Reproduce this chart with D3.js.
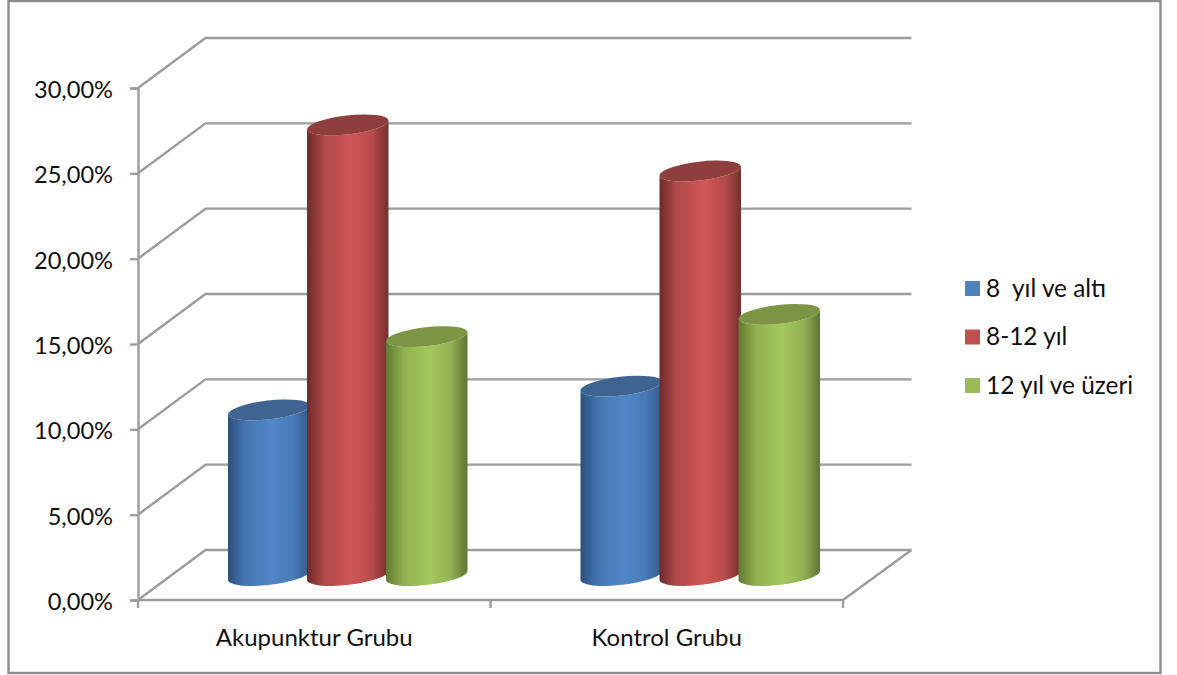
<!DOCTYPE html>
<html lang="tr">
<head>
<meta charset="utf-8">
<style>
  html, body { margin: 0; padding: 0; background: #fff; }
  svg { display: block; }
  text { font-family: Lato, "Open Sans", sans-serif; fill: #111; }
</style>
<script src="https://cdn.jsdelivr.net/npm/d3@7"></script>
</head>
<body>
<svg id="chart" width="1177" height="675"></svg>
<script>
const categories = ["Akupunktur Grubu", "Kontrol Grubu"];
const seriesNames = ["8  yıl ve altı", "8-12 yıl", "12 yıl ve üzeri"];
const firstSeries = [9.7, 11.1];
const secondSeries = [26.4, 23.7];
const thirdSeries = [14.0, 15.3];
const yTicks = [0, 5, 10, 15, 20, 25, 30];

const palette = [
  { edgeL: "#2b4f7c", mid: "#5086c8", edgeR: "#355a88", cap: "#3f6492", key: "#4f81bd" },
  { edgeL: "#6b2b2a", mid: "#cf5755", edgeR: "#742f2e", cap: "#8e3e3c", key: "#c0504d" },
  { edgeL: "#627a30", mid: "#a5c85d", edgeR: "#5f7434", cap: "#7c9545", key: "#9bbb59" }
];

const svg = d3.select("#chart");
const series = [firstSeries, secondSeries, thirdSeries];

// Plot box in screen space, plus the shift of the back wall for the 3D look
const plotLeft = 138, plotRight = 843, plotBottom = 600, plotTop = 88;
const wallDx = 67.5, wallDy = -50;
const gridColor = "#9c9c9c";
const gridWidth = 2.4;
const labelSize = 24;

const x = d3.scaleBand().domain(categories).range([plotLeft, plotRight]);
const y = d3.scaleLinear().domain([0, 30]).range([plotBottom, plotTop]);
const seriesX = d3.scalePoint().domain(d3.range(series.length)).range([-79, 79]);

// Outer frame
svg.append("rect")
  .attr("x", 8.5).attr("y", 1).attr("width", 1152).attr("height", 672)
  .attr("fill", "#fff").attr("stroke", "#8c8c8c").attr("stroke-width", 2.4);

// Gradients giving each cylinder its rounded shading
const defs = svg.append("defs");
palette.forEach((c, i) => {
  const g = defs.append("linearGradient").attr("id", "cyl" + i)
    .attr("x1", 0).attr("x2", 1).attr("y1", 0).attr("y2", 0);
  [[0, c.edgeL], [0.22, d3.interpolateRgb(c.edgeL, c.mid)(0.72)], [0.55, c.mid],
   [0.8, d3.interpolateRgb(c.edgeR, c.mid)(0.72)], [1, c.edgeR]]
    .forEach(([o, col]) => g.append("stop").attr("offset", o).attr("stop-color", col));
});

// Wall and floor gridlines
const grid = svg.append("g").attr("fill", "none").attr("stroke", gridColor).attr("stroke-width", gridWidth);
yTicks.forEach(t => {
  grid.append("path").attr("d", d3.line()([
    [plotLeft, y(t)], [plotLeft + wallDx, y(t) + wallDy], [plotRight + wallDx + 1, y(t) + wallDy]
  ]));
});
grid.append("path").attr("d", d3.line()([
  [plotRight, y(0)], [plotRight + wallDx + 1, y(0) + wallDy]
]));

// Value axis with Turkish decimal comma
const tr = d3.formatLocale({ decimal: ",", thousands: ".", grouping: [3], currency: ["", " ₺"] });
const fmt = tr.format(".2f");
const yAxis = svg.append("g").attr("transform", `translate(${plotLeft},0)`)
  .call(d3.axisLeft(y).tickValues(yTicks).tickSize(8).tickPadding(17)
    .tickFormat(v => fmt(v) + "%"));
yAxis.selectAll("path.domain").attr("stroke", gridColor).attr("stroke-width", gridWidth);
yAxis.selectAll("line").attr("stroke", gridColor).attr("stroke-width", gridWidth);
yAxis.selectAll("text")
  .attr("font-size", labelSize - 0.4)
  .attr("dy", "0.4em")
  .style("font-family", "Lato, sans-serif")
  .attr("fill", "#111");

// Category axis: ticks fall on the band edges, labels in the band centres
const xAxisG = svg.append("g");
xAxisG.append("line").attr("x1", plotLeft).attr("x2", plotRight).attr("y1", y(0)).attr("y2", y(0))
  .attr("stroke", gridColor).attr("stroke-width", gridWidth);
[plotLeft, x(categories[1]), plotRight].forEach(px => {
  xAxisG.append("line").attr("x1", px).attr("x2", px).attr("y1", y(0)).attr("y2", y(0) + 8)
    .attr("stroke", gridColor).attr("stroke-width", gridWidth);
});
xAxisG.selectAll("text").data(categories).join("text")
  .attr("x", d => x(d) + x.bandwidth() / 2)
  .attr("y", 646)
  .attr("text-anchor", "middle")
  .attr("font-size", labelSize)
  .text(d => d);

// Cylinders: tilted ellipse caps joined by a shaded body
const halfW = 41, capMinor = 9.4, tilt = -6.5;
const rad = tilt * Math.PI / 180;
const ex = halfW * Math.cos(rad), ey = halfW * Math.sin(rad);
const depthDx = 33.5, depthDy = -24.5;

const bars = svg.append("g");
categories.forEach((cat, ci) => {
  series.forEach((vals, si) => {
    const cx = x(cat) + x.bandwidth() / 2 + seriesX(si) + depthDx;
    const baseY = y(0) + depthDy;
    const capY = y(vals[ci]) + depthDy;
    const body = `M${cx - ex},${capY - ey}` +
      `L${cx - ex},${baseY - ey}` +
      `A${halfW},${capMinor} ${tilt} 0 0 ${cx + ex},${baseY + ey}` +
      `L${cx + ex},${capY + ey}` +
      `A${halfW},${capMinor} ${tilt} 0 1 ${cx - ex},${capY - ey}Z`;
    bars.append("path").attr("d", body).attr("fill", `url(#cyl${si})`);
    bars.append("ellipse")
      .attr("rx", halfW).attr("ry", capMinor)
      .attr("transform", `translate(${cx},${capY}) rotate(${tilt})`)
      .attr("fill", palette[si].cap);
  });
});

// Legend
const legendY = d3.scalePoint().domain(seriesNames).range([288.5, 385.5]);
const legend = svg.append("g");
seriesNames.forEach((name, i) => {
  legend.append("rect")
    .attr("x", 965).attr("y", legendY(name) - 7.5)
    .attr("width", 15).attr("height", 15)
    .attr("fill", palette[i].key);
  legend.append("text")
    .attr("x", 986).attr("y", legendY(name) + 8)
    .attr("font-size", labelSize + 0.4)
    .style("white-space", "pre")
    .text(name);
});
</script>
</body>
</html>
